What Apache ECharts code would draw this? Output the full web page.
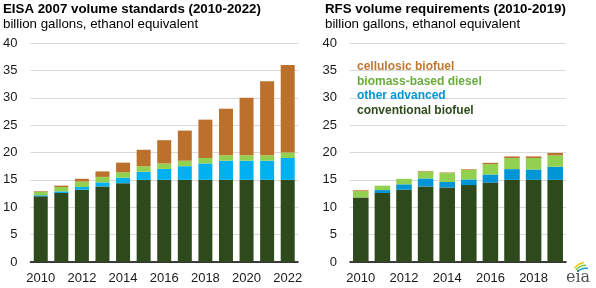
<!DOCTYPE html>
<html>
<head>
<meta charset="utf-8">
<script src="https://cdn.jsdelivr.net/npm/echarts@6/dist/echarts.min.js"></script>
<style>
	html, body { margin: 0; padding: 0; background: #fff; }
	#chart { width: 596px; height: 288px; }
</style>
</head>
<body>
<div id="chart"></div>
<script>
// EISA 2007 schedule, billion gallons ethanol equivalent
var eisaYears = ['2010','2011','2012','2013','2014','2015','2016','2017','2018','2019','2020','2021','2022'];
var eisaConventional = [12.0, 12.6, 13.2, 13.8, 14.4, 15, 15, 15, 15, 15, 15, 15, 15];
var eisaOther = [0.2, 0.3, 0.5, 0.75, 1.0, 1.5, 2.0, 2.5, 3.0, 3.5, 3.5, 3.5, 4.0];
var eisaBiodiesel = [0.65, 0.8, 1.0, 1.0, 1.0, 1.0, 1.0, 1.0, 1.0, 1.0, 1.0, 1.0, 1.0];
var eisaCellulosic = [0.1, 0.25, 0.5, 1.0, 1.75, 3.0, 4.25, 5.5, 7.0, 8.5, 10.5, 13.5, 16.0];

// RFS final volume requirements
var rfsYears = ['2010','2011','2012','2013','2014','2015','2016','2017','2018','2019'];
var rfsConventional = [11.8, 12.6, 13.2, 13.8, 13.61, 14.05, 14.5, 15, 15, 15];
var rfsOther = [0, 0.54, 0.99, 1.46, 1.0, 1.03, 1.48, 1.97, 1.9, 2.4];
var rfsBiodiesel = [1.15, 0.8, 1.0, 1.28, 1.63, 1.73, 1.9, 2.0, 2.1, 2.1];
var rfsCellulosic = [0.15, 0, 0, 0.1, 0.1, 0.12, 0.23, 0.31, 0.29, 0.42];

var yTicks = { min: 0, max: 40, interval: 5 };

var colors = {
	conventional: '#2e4a1c',
	otherL: '#00b0f0',
	otherR: '#0096d6',
	biodiesel: '#92d050',
	cellulosic: '#bb712b',
	grid: '#d9d9d9',
	text: '#1a1a1a'
};
var font = 'Liberation Sans, Arial, sans-serif';

function makeY(gridIndex) {
	return {
		type: 'value', gridIndex: gridIndex,
		min: yTicks.min, max: yTicks.max, interval: yTicks.interval,
		axisLine: { show: false }, axisTick: { show: false },
		axisLabel: { fontSize: 13, fontFamily: font, color: colors.text, margin: 13 },
		splitLine: { lineStyle: { color: colors.grid, width: 1 } }
	};
}
function makeX(gridIndex, data) {
	return {
		type: 'category', gridIndex: gridIndex, data: data,
		axisLine: { lineStyle: { color: '#000', width: 1.5 } },
		axisTick: { show: false },
		axisLabel: { interval: 1, fontSize: 13, fontFamily: font, color: colors.text, margin: 10 }
	};
}
function bar(name, idx, stack, data, color, gap) {
	return {
		name: name, type: 'bar', stack: stack, data: data,
		xAxisIndex: idx, yAxisIndex: idx,
		barCategoryGap: gap,
		itemStyle: { color: color },
		emphasis: { disabled: true }
	};
}

var titleStyle = { fontSize: 13.3, fontWeight: 'bold', color: '#000', fontFamily: font };
var subStyle = { fontSize: 13.3, color: '#000', fontFamily: font };

var chart = echarts.init(document.getElementById('chart'));
chart.setOption({
	animation: false,
	title: [
		{
			text: 'EISA 2007 volume standards (2010-2022)',
			subtext: 'billion gallons, ethanol equivalent',
			left: 3, top: 3, padding: 0, itemGap: 2,
			textStyle: titleStyle, subtextStyle: subStyle
		},
		{
			text: 'RFS volume requirements (2010-2019)',
			subtext: 'billion gallons, ethanol equivalent',
			left: 325, top: 3, padding: 0, itemGap: 2,
			textStyle: titleStyle, subtextStyle: subStyle
		}
	],
	legend: {
		orient: 'vertical', left: 347, top: 55,
		icon: 'rect', itemWidth: 0, itemHeight: 0, itemGap: 0.4,
		selectedMode: false,
		textStyle: { fontSize: 12, fontWeight: 'bold', fontFamily: font, lineHeight: 14 },
		data: [
			{ name: 'cellulosic biofuel', textStyle: { color: '#c0782e' } },
			{ name: 'biomass-based diesel', textStyle: { color: '#6aab3c' } },
			{ name: 'other advanced', textStyle: { color: colors.otherR } },
			{ name: 'conventional biofuel', textStyle: { color: colors.conventional } }
		]
	},
	grid: [
		{ left: 30, right: 298, top: 43, bottom: 26 },
		{ left: 350, right: 30, top: 43, bottom: 26 }
	],
	xAxis: [makeX(0, eisaYears), makeX(1, rfsYears)],
	yAxis: [makeY(0), makeY(1)],
	series: [
		bar('conventional biofuel', 0, 'eisa', eisaConventional, colors.conventional, '32%'),
		bar('other advanced', 0, 'eisa', eisaOther, colors.otherL, '32%'),
		bar('biomass-based diesel', 0, 'eisa', eisaBiodiesel, colors.biodiesel, '32%'),
		bar('cellulosic biofuel', 0, 'eisa', eisaCellulosic, colors.cellulosic, '32%'),
		bar('conventional biofuel', 1, 'rfs', rfsConventional, colors.conventional, '28%'),
		bar('other advanced', 1, 'rfs', rfsOther, colors.otherR, '28%'),
		bar('biomass-based diesel', 1, 'rfs', rfsBiodiesel, colors.biodiesel, '28%'),
		bar('cellulosic biofuel', 1, 'rfs', rfsCellulosic, colors.cellulosic, '28%')
	],
	graphic: [
		{
			type: 'group', left: 566, top: 260,
			children: [
				{ type: 'arc', shape: { cx: 22, cy: 16, r: 14, startAngle: Math.PI * 1.2, endAngle: Math.PI * 1.45 }, style: { stroke: '#f2c500', lineWidth: 1.5, fill: null } },
				{ type: 'arc', shape: { cx: 22, cy: 18, r: 13, startAngle: Math.PI * 1.22, endAngle: Math.PI * 1.5 }, style: { stroke: '#7cc242', lineWidth: 1.5, fill: null } },
				{ type: 'arc', shape: { cx: 22, cy: 20, r: 12, startAngle: Math.PI * 1.25, endAngle: Math.PI * 1.55 }, style: { stroke: '#1b9ad6', lineWidth: 1.5, fill: null } },
				{ type: 'text', x: 2, y: 10, style: { text: 'eia', font: '16px DejaVu Serif, serif', fill: '#555' } }
			]
		}
	]
});
</script>
</body>
</html>
